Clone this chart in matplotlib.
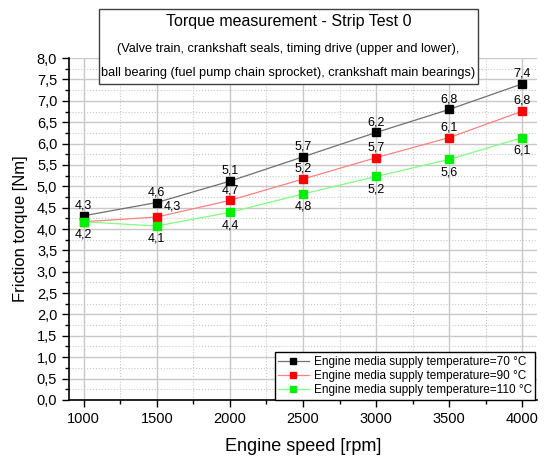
import matplotlib
matplotlib.use("Agg")
import matplotlib.pyplot as plt
from matplotlib.patches import Rectangle
from matplotlib.ticker import MultipleLocator, FuncFormatter

plt.rcParams['font.family'] = ['Liberation Sans', 'DejaVu Sans']

speed = [1000, 1500, 2000, 2500, 3000, 3500, 4000]
torque_70 = [4.31, 4.62, 5.12, 5.69, 6.26, 6.80, 7.40]
torque_90 = [4.17, 4.28, 4.67, 5.17, 5.67, 6.14, 6.76]
torque_110 = [4.17, 4.07, 4.39, 4.82, 5.23, 5.63, 6.14]
labels_70 = ["4,3", "4,6", "5,1", "5,7", "6,2", "6,8", "7,4"]
labels_90 = ["", "4,3", "4,7", "5,2", "5,7", "6,1", "6,8"]
labels_110 = ["4,2", "4,1", "4,4", "4,8", "5,2", "5,6", "6,1"]
series_names = ["Engine media supply temperature=70 °C",
                "Engine media supply temperature=90 °C",
                "Engine media supply temperature=110 °C"]

fig = plt.figure(figsize=(5.5, 4.65), dpi=100)
ax = fig.add_axes([0.1255, 0.140, 0.851, 0.735])

# series: values, labels, marker colour, line colour, label offset (pt), alignment
series = [
    (torque_70, labels_70, "#000000", "#707070", (0, 3), "bottom"),
    (torque_90, labels_90, "#ff0000", "#ff8080", (0, 3), "bottom"),
    (torque_110, labels_110, "#00ee00", "#80ff80", (0, -5), "top"),
]
for (vals, labs, mc, lc, off, va), name in zip(series, series_names):
    ax.plot(speed, vals, color=lc, lw=0.9, marker="s", ms=5.8,
            mfc=mc, mec=mc, label=name, zorder=3)
    for x, y, t in zip(speed, vals, labs):
        dx = off[0]
        if t == "4,3" and mc == "#ff0000":
            dx = 11
        ax.annotate(t, (x, y), xytext=(dx, off[1]), textcoords="offset points",
                    ha="center", va=va, fontsize=9, zorder=4)

ax.set_xlim(900, 4100)
ax.set_ylim(0, 8.0)
ax.xaxis.set_major_locator(MultipleLocator(500))
ax.xaxis.set_minor_locator(MultipleLocator(250))
ax.yaxis.set_major_locator(MultipleLocator(0.5))
ax.yaxis.set_minor_locator(MultipleLocator(0.25))
ax.yaxis.set_major_formatter(FuncFormatter(lambda v, p: f"{v:.1f}".replace(".", ",")))
ax.tick_params(which="major", direction="out", length=5, width=1, labelsize=10.5)
ax.tick_params(which="minor", direction="out", length=3, width=1)

ax.grid(which="major", color="#c8c8c8", lw=1)
ax.grid(which="minor", color="#c8c8c8", lw=0.8, ls=":")
ax.set_axisbelow(True)
for s in ["top", "right"]:
    ax.spines[s].set_visible(False)
for s in ["left", "bottom"]:
    ax.spines[s].set_linewidth(1.2)

ax.set_xlabel("Engine speed [rpm]", fontsize=13, labelpad=9)
ax.set_ylabel("Friction torque [Nm]", fontsize=12, labelpad=6)

leg = ax.legend(loc="lower right", bbox_to_anchor=(0.996, 0.0), borderaxespad=0,
                fontsize=8.5, fancybox=False, edgecolor="black", framealpha=1,
                handlelength=2.6, handletextpad=0.4, labelspacing=0.2,
                markerscale=0.75, borderpad=0.3)
leg.get_frame().set_linewidth(1)

# title box
fig.patches.append(Rectangle((0.18, 0.819), 0.689, 0.162, transform=fig.transFigure,
                             fc="white", ec="#404040", lw=1, zorder=5))
fig.text(0.5245, 0.953, "Torque measurement - Strip Test 0", ha="center", va="center",
         fontsize=11.5, zorder=6)
fig.text(0.5245, 0.895, "(Valve train, crankshaft seals, timing drive (upper and lower),",
         ha="center", va="center", fontsize=9.2, zorder=6)
fig.text(0.5245, 0.843, "ball bearing (fuel pump chain sprocket), crankshaft main bearings)",
         ha="center", va="center", fontsize=9.2, zorder=6)

fig.savefig("out.png", dpi=100)
